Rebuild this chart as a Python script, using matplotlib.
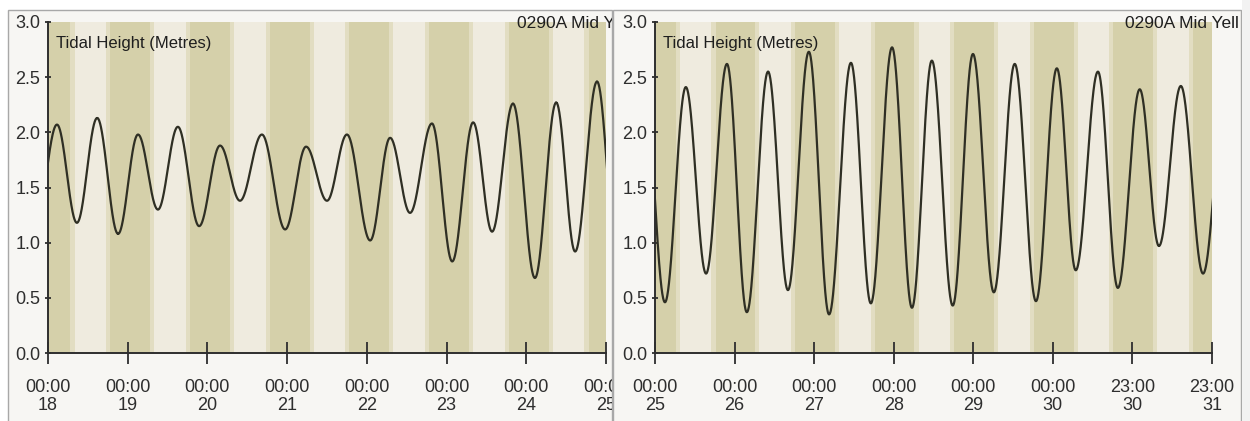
import numpy as np
import matplotlib
matplotlib.use("Agg")
import matplotlib.pyplot as plt
from matplotlib.patches import Rectangle
from matplotlib.transforms import Bbox, TransformedBbox

# ---- tide extremes: hours from the first midnight of each panel, height (m) ----
left_times = [-3.6, 2.7, 8.7, 14.8, 21.1, 27.1, 33.1, 39.1, 45.5, 51.8, 57.8, 64.4,
              71.4, 77.7, 84.0, 90.0, 97.0, 103.0, 109.0, 115.6, 121.7, 128.0,
              133.7, 140.0, 146.6, 153.0, 158.7, 165.3, 171.3]
left_heights = [1.20, 2.07, 1.18, 2.13, 1.08, 1.98, 1.30, 2.05, 1.15, 1.88, 1.38, 1.98,
                1.12, 1.87, 1.38, 1.98, 1.02, 1.95, 1.27, 2.08, 0.83, 2.09,
                1.10, 2.26, 0.68, 2.27, 0.92, 2.46, 0.90]

right_times = [-3.3, 3.0, 9.3, 15.4, 21.7, 27.7, 34.1, 40.1, 46.4, 52.5, 59.1, 65.1,
               71.5, 77.5, 83.5, 89.8, 95.9, 102.2, 108.5, 114.9, 121.2, 126.9,
               133.6, 139.6, 146.2, 152.0, 158.6, 165.3, 171.9]
right_heights = [2.45, 0.46, 2.41, 0.72, 2.62, 0.37, 2.55, 0.57, 2.73, 0.35, 2.63, 0.45,
                 2.77, 0.41, 2.65, 0.43, 2.71, 0.55, 2.62, 0.47, 2.58, 0.75,
                 2.55, 0.59, 2.39, 0.97, 2.42, 0.72, 2.30]

# ---- axis labels ----
left_tick_labels = ["00:00\n18", "00:00\n19", "00:00\n20", "00:00\n21",
                    "00:00\n22", "00:00\n23", "00:00\n24", "00:00\n25"]
right_tick_labels = ["00:00\n25", "00:00\n26", "00:00\n27", "00:00\n28",
                     "00:00\n29", "00:00\n30", "23:00\n30", "23:00\n31"]
y_ticks = [0.0, 0.5, 1.0, 1.5, 2.0, 2.5, 3.0]
left_title = "0290A Mid Y"
right_title = "0290A Mid Yell"
y_title = "Tidal Height (Metres)"

# ---- daylight phases (hour of day): dawn start, day start, dusk start, night start ----
left_light = [6.75, 8.0, 17.5, 18.75]
right_light = [6.25, 7.5, 17.0, 18.25]
n_days = 7

NIGHT = "#d5d0aa"
TWILIGHT = "#e2ddc2"
DAY = "#efebdf"
LINE = "#2f2f24"
AXIS = "#2e2e2e"
PANEL_BG = "#f7f6f3"
FRAME = "#a8a8a8"
TEXT = "#1e1e1e"

W, H = 1250, 421
fig = plt.figure(figsize=(W / 100, H / 100), dpi=100)
fig.patch.set_facecolor("white")
plt.rcParams["font.family"] = ["Liberation Sans", "DejaVu Sans"]


def px_rect(x0, y0, x1, y1, **kw):
    return Rectangle((x0 / W, 1 - y1 / H), (x1 - x0) / W, (y1 - y0) / H,
                     transform=fig.transFigure, **kw)


def px_clip(x0, y0, x1, y1):
    box = Bbox.from_extents(x0 / W, 1 - y1 / H, x1 / W, 1 - y0 / H)
    return TransformedBbox(box, fig.transFigure)


def tide_curve(times, heights, step=0.05):
    ts, hs = [], []
    for i in range(len(times) - 1):
        t0, t1 = times[i], times[i + 1]
        h0, h1 = heights[i], heights[i + 1]
        t = np.arange(t0, t1, step)
        f = (1 - np.cos(np.pi * (t - t0) / (t1 - t0))) / 2
        ts.append(t)
        hs.append(h0 + (h1 - h0) * f)
    return np.concatenate(ts), np.concatenate(hs)


def shade_days(ax, phases):
    dawn, day, dusk, night = phases
    for d in range(-1, n_days + 1):
        base = 24 * d
        ax.axvspan(base - 24 + night, base + dawn, color=NIGHT, lw=0, zorder=0)
        ax.axvspan(base + dawn, base + day, color=TWILIGHT, lw=0, zorder=0)
        ax.axvspan(base + day, base + dusk, color=DAY, lw=0, zorder=0)
        ax.axvspan(base + dusk, base + night, color=TWILIGHT, lw=0, zorder=0)


def draw_panel(rect, times, heights, labels, phases, zorder, clip):
    ax = fig.add_axes(rect, zorder=zorder)
    ax.set_facecolor("none")
    shade_days(ax, phases)
    t, h = tide_curve(times, heights)
    ax.plot(t, h, color=LINE, lw=1.6, zorder=3)
    ax.set_xlim(0, 24 * n_days)
    ax.set_ylim(0, 3.0)
    for s in ("top", "right"):
        ax.spines[s].set_visible(False)
    for s in ("left", "bottom"):
        ax.spines[s].set_color(AXIS)
        ax.spines[s].set_linewidth(1.4)
        ax.spines[s].set_zorder(4)
    ax.set_xticks(np.arange(0, 24 * n_days + 1, 24))
    ax.set_xticklabels(labels, linespacing=1.05)
    ax.set_yticks(y_ticks)
    ax.set_yticklabels([f"{v:.1f}" for v in y_ticks])
    ax.tick_params(axis="x", direction="inout", length=16, width=1.3, color=AXIS,
                   pad=11, labelsize=13, labelcolor="#2e2e2e")
    ax.tick_params(axis="y", direction="inout", length=5, width=1.3, color=AXIS,
                   pad=3, labelsize=13, labelcolor="#2e2e2e")
    for lab in ax.get_xticklabels():
        lab.set_clip_box(clip)
        lab.set_clip_on(True)
    ax.text(0.014, 0.935, y_title, transform=ax.transAxes, fontsize=12,
            color=TEXT, va="center", ha="left", zorder=5)
    return ax


# left panel frame and background
fig.add_artist(px_rect(8, 10, 612, 425, facecolor=PANEL_BG, edgecolor=FRAME,
                       lw=1.0, zorder=-1))
left_clip = px_clip(8, 10, 611.5, 421)
ax_left = draw_panel([48 / W, 1 - 353 / H, 558 / W, 331 / H], left_times, left_heights,
                     left_tick_labels, left_light, zorder=0, clip=left_clip)
t_left = fig.text(517 / W, 1 - 23 / H, left_title, fontsize=12.5, color=TEXT,
                  ha="left", va="center", zorder=0.5)
t_left.set_clip_box(left_clip)
t_left.set_clip_on(True)

# right panel
fig.add_artist(px_rect(613, 10, 1241, 425, facecolor=PANEL_BG, edgecolor=FRAME,
                       lw=1.0, zorder=1))
right_clip = px_clip(613, 10, 1241, 421)
ax_right = draw_panel([655 / W, 1 - 353 / H, 557 / W, 331 / H], right_times,
                      right_heights, right_tick_labels, right_light, zorder=2,
                      clip=right_clip)
t_right = fig.text(1125 / W, 1 - 23 / H, right_title, fontsize=12.5, color=TEXT,
                   ha="left", va="center", zorder=2.5)
t_right.set_clip_box(right_clip)
t_right.set_clip_on(True)
fig.add_artist(px_rect(1241.5, 0, 1250, 425, facecolor="#f2f2f2", edgecolor="none",
                       zorder=6))

fig.savefig("out.png", dpi=100)
